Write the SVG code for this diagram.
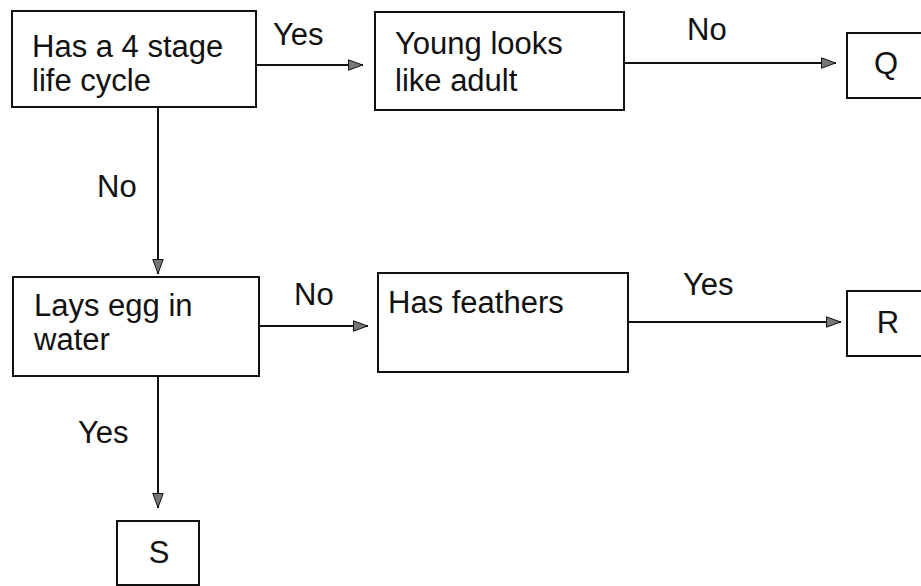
<svg xmlns="http://www.w3.org/2000/svg" width="921" height="586" viewBox="0 0 921 586">
<defs>
<style>
.box{fill:#fff;stroke:#111;stroke-width:2}
.t{font-family:"Liberation Sans",Arial,sans-serif;font-size:31px;fill:#111}
.c{text-anchor:middle}
.ln{stroke:#111;stroke-width:2;fill:none}
</style>
<marker id="ah" viewBox="0 0 15 12" refX="15" refY="6" markerWidth="15" markerHeight="12" markerUnits="userSpaceOnUse" orient="auto">
<path d="M0.5,0.8 L14.5,6 L0.5,11.2 Z" fill="#777" stroke="#111" stroke-width="1"/>
</marker>
</defs>
<rect width="921" height="586" fill="#fff"/>
<g id="connectors">
<line class="ln" x1="257" y1="65" x2="363" y2="65" marker-end="url(#ah)"/>
<text class="t" x="273" y="45">Yes</text>
<line class="ln" x1="624" y1="63" x2="836" y2="63" marker-end="url(#ah)"/>
<text class="t" x="687" y="40">No</text>
<line class="ln" x1="158" y1="107" x2="158" y2="274" marker-end="url(#ah)"/>
<text class="t" x="97" y="197">No</text>
<line class="ln" x1="259" y1="326" x2="368" y2="326" marker-end="url(#ah)"/>
<text class="t" x="294" y="305">No</text>
<line class="ln" x1="628" y1="322" x2="841" y2="322" marker-end="url(#ah)"/>
<text class="t" x="683" y="295">Yes</text>
<line class="ln" x1="158" y1="376" x2="158" y2="508" marker-end="url(#ah)"/>
<text class="t" x="78" y="443">Yes</text>
</g>
<g id="n1">
<rect class="box" x="12" y="11" width="244" height="96"/>
<text class="t" x="32" y="57">Has a 4 stage</text>
<text class="t" x="32" y="91">life cycle</text>
</g>
<g id="n2">
<rect class="box" x="375" y="12" width="249" height="98"/>
<text class="t" x="395" y="54">Young looks</text>
<text class="t" x="395" y="91">like adult</text>
</g>
<g id="nQ">
<rect class="box" x="847" y="33" width="90" height="65"/>
<text class="t c" x="886" y="74">Q</text>
</g>
<g id="n3">
<rect class="box" x="13" y="277" width="246" height="99"/>
<text class="t" x="34" y="316">Lays egg in</text>
<text class="t" x="34" y="350">water</text>
</g>
<g id="n4">
<rect class="box" x="378" y="273" width="250" height="99"/>
<text class="t" x="388" y="313">Has feathers</text>
</g>
<g id="nR">
<rect class="box" x="847" y="291" width="90" height="65"/>
<text class="t c" x="888" y="333">R</text>
</g>
<g id="nS">
<rect class="box" x="117" y="521" width="82" height="64"/>
<text class="t c" x="159" y="563">S</text>
</g>
</svg>
